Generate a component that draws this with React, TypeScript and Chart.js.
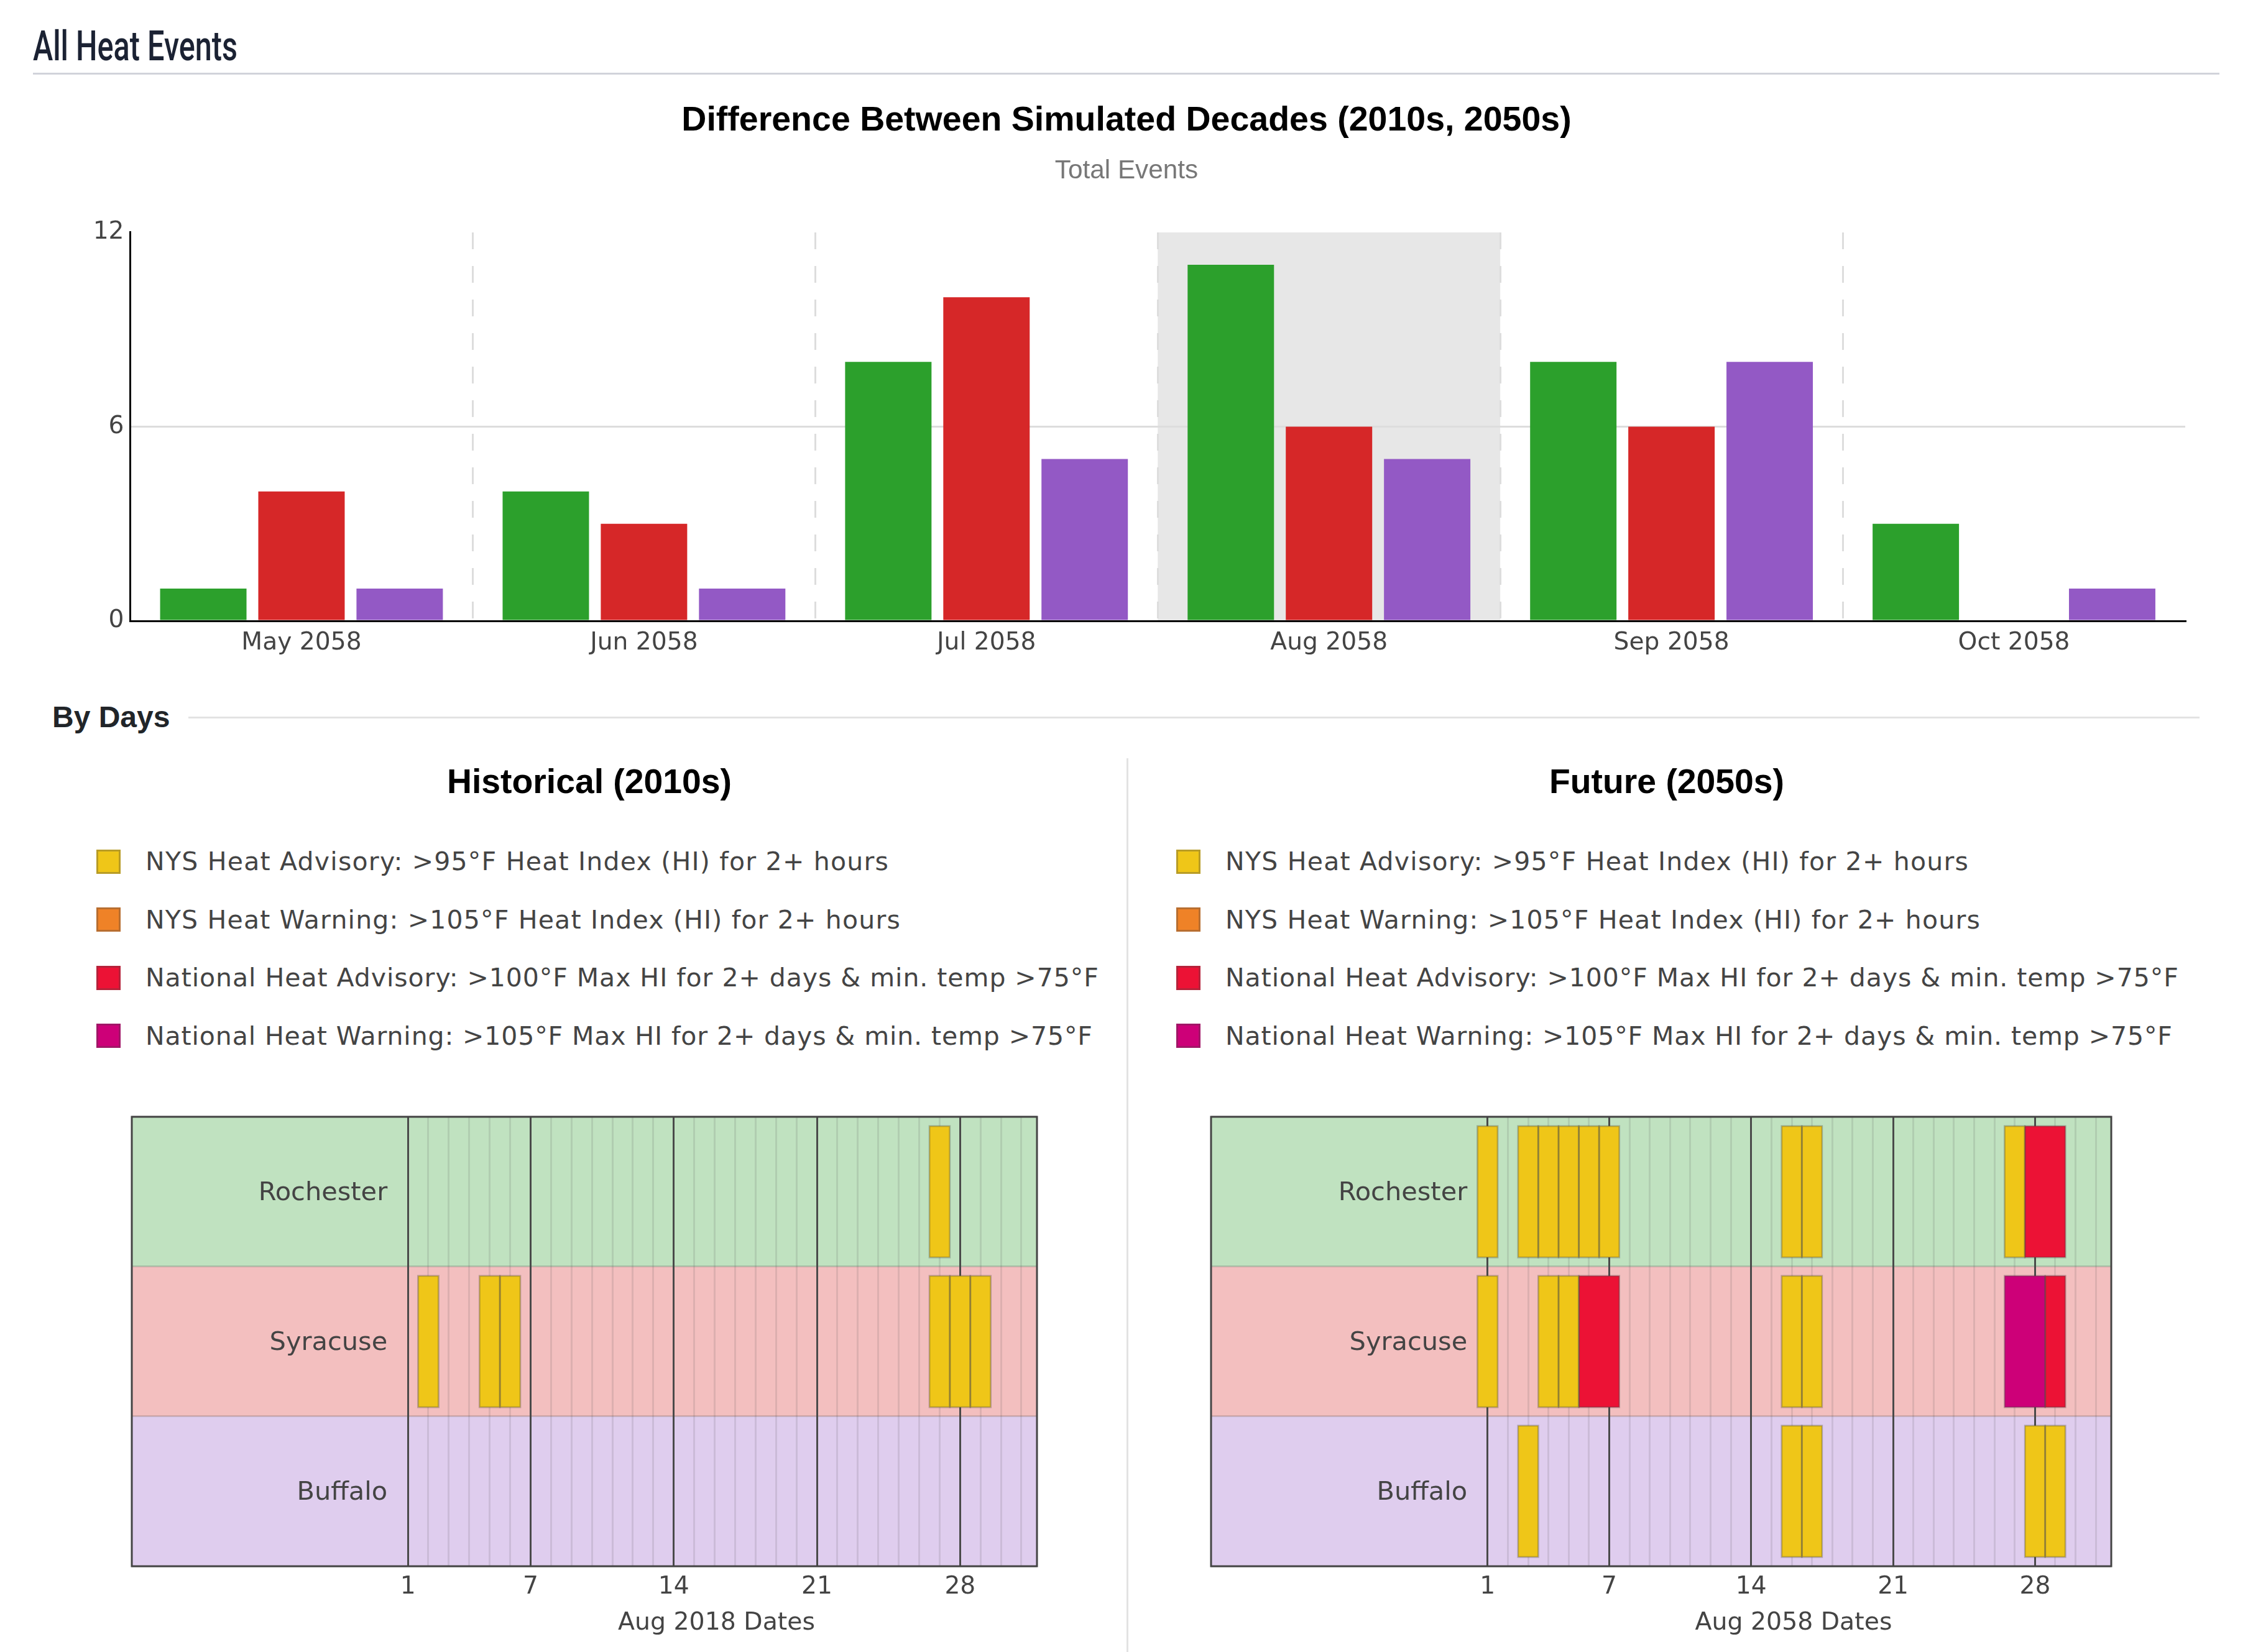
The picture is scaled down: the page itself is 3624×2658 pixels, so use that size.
import React, { useEffect, useRef } from "react";
import { Chart, registerables } from "chart.js";

Chart.register(...registerables);

const months = ["May 2058", "Jun 2058", "Jul 2058", "Aug 2058", "Sep 2058", "Oct 2058"];
const rochesterTotals = [1, 4, 8, 11, 8, 3];
const syracuseTotals = [4, 3, 10, 6, 6, 0];
const buffaloTotals = [1, 1, 5, 5, 8, 1];
const selectedMonth = "Aug 2058";

const cities = ["Rochester", "Syracuse", "Buffalo"];
const cityBands = ["#c0e2c0", "#f3bfbf", "#dfcdee"];

const allDays = [1, 2, 3, 4, 5, 6, 7, 8, 9, 10, 11, 12, 13, 14, 15, 16, 17, 18, 19, 20, 21, 22, 23, 24, 25, 26, 27, 28, 29, 30, 31];
const labelledDays = [1, 7, 14, 21, 28];

// [city, first day, last day]
type HeatEvent = [string, number, number];

const histNysAdvisory: HeatEvent[] = [
  ["Rochester", 27, 27],
  ["Syracuse", 2, 2],
  ["Syracuse", 5, 5],
  ["Syracuse", 6, 6],
  ["Syracuse", 27, 27],
  ["Syracuse", 28, 28],
  ["Syracuse", 29, 29]
];
const futureNysAdvisory: HeatEvent[] = [
  ["Rochester", 1, 1],
  ["Rochester", 3, 3],
  ["Rochester", 4, 4],
  ["Rochester", 5, 5],
  ["Rochester", 6, 6],
  ["Rochester", 7, 7],
  ["Rochester", 16, 16],
  ["Rochester", 17, 17],
  ["Rochester", 27, 27],
  ["Syracuse", 1, 1],
  ["Syracuse", 4, 4],
  ["Syracuse", 5, 5],
  ["Syracuse", 16, 16],
  ["Syracuse", 17, 17],
  ["Buffalo", 3, 3],
  ["Buffalo", 16, 16],
  ["Buffalo", 17, 17],
  ["Buffalo", 28, 28],
  ["Buffalo", 29, 29]
];
const futureNationalAdvisory: HeatEvent[] = [
  ["Rochester", 28, 29],
  ["Syracuse", 6, 7],
  ["Syracuse", 29, 29]
];
const futureNationalWarning: HeatEvent[] = [["Syracuse", 27, 28]];

const legendLabels = [
  "NYS Heat Advisory: >95°F Heat Index (HI) for 2+ hours",
  "NYS Heat Warning: >105°F Heat Index (HI) for 2+ hours",
  "National Heat Advisory: >100°F Max HI for 2+ days & min. temp >75°F",
  "National Heat Warning: >105°F Max HI for 2+ days & min. temp >75°F"
];
const legendColors = ["#efc618", "#ef8227", "#ec1235", "#cd0078"];
// the reference font is a little wider than DejaVu, line by line
const legendSpacing = [1.22, 1.18, 0.95, 0.89];

const sans = "'Liberation Sans', Arial, sans-serif";
const dejavu = "'DejaVu Sans', Verdana, sans-serif";
const tickFont = { family: dejavu, size: 39.2 };
const textColor = "#444";

const MonthChart: React.FC = () => {
  const canvasRef = useRef<HTMLCanvasElement | null>(null);

  useEffect(() => {
    if (!canvasRef.current) return;

    const highlight = {
      id: "highlight",
      beforeDraw(chart: any) {
        const { ctx, chartArea, scales } = chart;
        const i = months.indexOf(selectedMonth);
        const half = (scales.x.getPixelForValue(1) - scales.x.getPixelForValue(0)) / 2;
        const mid = scales.x.getPixelForValue(i);
        ctx.save();
        ctx.fillStyle = "#e7e7e7";
        ctx.fillRect(mid - half, chartArea.top, half * 2, chartArea.height);
        ctx.restore();
      }
    };

    const bar = { categoryPercentage: 0.86, barPercentage: 0.88 };
    const chart = new Chart(canvasRef.current, {
      type: "bar",
      data: {
        labels: months,
        datasets: [
          { label: "Rochester", data: rochesterTotals, backgroundColor: "#2ca02c", ...bar },
          { label: "Syracuse", data: syracuseTotals, backgroundColor: "#d62728", ...bar },
          { label: "Buffalo", data: buffaloTotals, backgroundColor: "#9359c5", ...bar }
        ]
      },
      options: {
        responsive: false,
        animation: false,
        // equal side padding keeps the title on the page centre
        layout: { autoPadding: false, padding: { left: 109, right: 109 } },
        plugins: {
          legend: { display: false },
          tooltip: { enabled: false },
          title: {
            display: true,
            text: "Difference Between Simulated Decades (2010s, 2050s)",
            color: "#000",
            font: { family: sans, size: 55.5, weight: "bold" },
            padding: { top: 31.7, bottom: 21.3 }
          },
          subtitle: {
            display: true,
            text: "Total Events",
            color: "#777",
            font: { family: sans, size: 42.3, weight: "normal" },
            padding: { top: 0, bottom: 73.6 }
          }
        },
        scales: {
          x: {
            afterFit: (axis: any) => { axis.height = 101; },
            border: { display: true, color: "#000", width: 3, dash: [27, 27] },
            grid: {
              offset: true,
              drawTicks: false,
              lineWidth: 3,
              color: (ctx: any) => (ctx.index >= 1 && ctx.index < months.length ? "#dddddd" : "transparent")
            },
            ticks: { font: tickFont, color: textColor, padding: 12.5, maxRotation: 0 }
          },
          y: {
            min: 0,
            max: 12,
            afterFit: (axis: any) => { axis.width = 100.5; },
            afterBuildTicks: (axis: any) => { axis.ticks = [{ value: 0 }, { value: 6 }, { value: 12 }]; },
            border: { display: true, color: "#000", width: 3 },
            grid: {
              drawTicks: false,
              lineWidth: 3,
              color: (ctx: any) => (ctx.tick && ctx.tick.value === 6 ? "#dddddd" : "transparent")
            },
            ticks: { font: tickFont, color: textColor, padding: 10 }
          }
        }
      },
      plugins: [highlight]
    } as any);

    return () => chart.destroy();
  }, []);

  return (
    <canvas
      ref={canvasRef}
      width={3624}
      height={970}
      style={{ position: "absolute", left: 0, top: 130, display: "block" }}
    />
  );
};

interface DayChartProps {
  left: number;
  width: number;
  plotLeft: number;
  plotRight: number;
  xMin: number;
  xMax: number;
  axisTitle: string;
  series: { events: HeatEvent[]; color: string }[];
}

const DayChart: React.FC<DayChartProps> = ({ left, width, plotLeft, plotRight, xMin, xMax, axisTitle, series }) => {
  const canvasRef = useRef<HTMLCanvasElement | null>(null);

  useEffect(() => {
    if (!canvasRef.current) return;

    const rows = {
      id: "rows",
      beforeDraw(chart: any) {
        const { ctx, chartArea, scales } = chart;
        const half = (scales.y.getPixelForValue(1) - scales.y.getPixelForValue(0)) / 2;
        ctx.save();
        cities.forEach((city, i) => {
          ctx.fillStyle = cityBands[i];
          ctx.fillRect(chartArea.left, scales.y.getPixelForValue(i) - half, chartArea.width, half * 2);
        });
        ctx.restore();
      },
      afterDraw(chart: any) {
        const { ctx, chartArea, scales } = chart;
        ctx.save();
        ctx.strokeStyle = textColor;
        ctx.lineWidth = 3;
        ctx.strokeRect(chartArea.left, chartArea.top, chartArea.width, chartArea.height);
        // the axis title sits under the 1-31 span, not under the whole plot
        ctx.fillStyle = textColor;
        ctx.font = `39.4px ${dejavu}`;
        ctx.textAlign = "center";
        ctx.textBaseline = "middle";
        ctx.fillText(axisTitle, scales.x.getPixelForValue(16) + 3, chartArea.bottom + 92);
        ctx.restore();
      }
    };

    const datasets: any[] = [];
    const common = { grouped: false, categoryPercentage: 1, borderSkipped: false };
    series.forEach((s) => {
      datasets.push({
        ...common,
        order: 2,
        barPercentage: 0.877,
        backgroundColor: s.color,
        borderWidth: 0,
        data: s.events.map((e) => ({ y: e[0], x: [e[1] - 0.5, e[2] + 0.5] }))
      });
      datasets.push({
        ...common,
        order: 1,
        barPercentage: 0.89,
        backgroundColor: "transparent",
        borderColor: "rgba(68,68,68,0.32)",
        borderWidth: 3,
        data: s.events.map((e) => ({ y: e[0], x: [e[1] - 0.546, e[2] + 0.546] }))
      });
    });

    const chart = new Chart(canvasRef.current, {
      type: "bar",
      data: { labels: cities, datasets },
      options: {
        indexAxis: "y",
        responsive: false,
        animation: false,
        layout: { autoPadding: false, padding: { left: plotLeft - left, right: left + width - plotRight, top: 17 } },
        plugins: { legend: { display: false }, tooltip: { enabled: false } },
        scales: {
          x: {
            type: "linear",
            min: xMin,
            max: xMax,
            afterFit: (axis: any) => { axis.height = 134; },
            afterBuildTicks: (axis: any) => { axis.ticks = allDays.map((value) => ({ value })); },
            border: { display: false },
            grid: {
              drawTicks: false,
              lineWidth: 3,
              color: (ctx: any) => (ctx.tick && labelledDays.includes(ctx.tick.value) ? "#4a4a4a" : "rgba(68,68,68,0.13)")
            },
            ticks: {
              autoSkip: false,
              maxRotation: 0,
              font: tickFont,
              color: textColor,
              padding: 10,
              callback: (value: any) => (labelledDays.includes(value) ? String(value) : "")
            }
          },
          y: {
            type: "category",
            position: { x: 0 },
            border: { display: false },
            grid: { drawTicks: false, lineWidth: 3, color: "rgba(68,68,68,0.2)" },
            ticks: { font: { family: dejavu, size: 41.5 }, color: textColor, padding: 1, labelOffset: 3 }
          }
        }
      },
      plugins: [rows]
    } as any);

    return () => chart.destroy();
  }, []);

  return (
    <canvas
      ref={canvasRef}
      width={width}
      height={883}
      style={{ position: "absolute", left, top: 1771, display: "block" }}
    />
  );
};

const HeatLegend: React.FC<{ boxLeft: number }> = ({ boxLeft }) => (
  <>
    {legendLabels.map((label, i) => (
      <div
        key={label}
        style={{
          position: "absolute",
          left: boxLeft,
          top: 1386 + i * 93.6 - 30,
          height: 60,
          display: "flex",
          alignItems: "center",
          whiteSpace: "nowrap",
          fontFamily: dejavu,
          fontSize: 41,
          letterSpacing: legendSpacing[i],
          color: textColor
        }}
      >
        <span
          style={{
            display: "inline-block",
            boxSizing: "border-box",
            width: 39,
            height: 39,
            marginRight: 40,
            background: legendColors[i],
            border: "3px solid rgba(68,68,68,0.32)",
            backgroundClip: "border-box"
          }}
        />
        {label}
      </div>
    ))}
  </>
);

const rule = (left: number, top: number, width: number, height: number, color: string) => (
  <div style={{ position: "absolute", left, top, width, height, background: color }} />
);

const App: React.FC = () => {
  const panelTitle: React.CSSProperties = {
    position: "absolute",
    top: 1221,
    width: 1000,
    textAlign: "center",
    fontFamily: sans,
    fontWeight: "bold",
    fontSize: 55.3,
    lineHeight: "72px",
    color: "#000"
  };

  return (
    <div style={{ position: "absolute", left: 0, top: 0, width: 3624, height: 2658, background: "#fff", overflow: "hidden" }}>
      <div
        style={{
          position: "absolute",
          left: 53,
          top: 36,
          fontFamily: "Roboto, sans-serif",
          fontWeight: 500,
          fontSize: 67.5,
          lineHeight: "76px",
          color: "#1b2233",
          whiteSpace: "nowrap",
          transform: "scaleX(0.72)",
          transformOrigin: "left center"
        }}
      >
        All Heat Events
      </div>
      {rule(53, 117, 3517, 3, "#d1d3da")}

      <MonthChart />

      <div
        style={{
          position: "absolute",
          left: 84,
          top: 1124,
          fontFamily: sans,
          fontWeight: "bold",
          fontSize: 48,
          lineHeight: "60px",
          color: "#212529"
        }}
      >
        By Days
      </div>
      {rule(303, 1153, 3235, 3, "#e3e3e3")}
      {rule(1812, 1220, 3, 1438, "#e3e3e3")}

      <div style={{ ...panelTitle, left: 448 }}>Historical (2010s)</div>
      <div style={{ ...panelTitle, left: 2181 }}>Future (2050s)</div>

      <HeatLegend boxLeft={155} />
      <HeatLegend boxLeft={1892} />

      <DayChart
        left={0}
        width={1800}
        plotLeft={212}
        plotRight={1668}
        xMin={-12.5}
        xMax={31.76}
        axisTitle="Aug 2018 Dates"
        series={[{ events: histNysAdvisory, color: legendColors[0] }]}
      />
      <DayChart
        left={1830}
        width={1794}
        plotLeft={1948}
        plotRight={3396}
        xMin={-12.64}
        xMax={31.76}
        axisTitle="Aug 2058 Dates"
        series={[
          { events: futureNysAdvisory, color: legendColors[0] },
          { events: futureNationalAdvisory, color: legendColors[2] },
          { events: futureNationalWarning, color: legendColors[3] }
        ]}
      />
    </div>
  );
};

export default App;
